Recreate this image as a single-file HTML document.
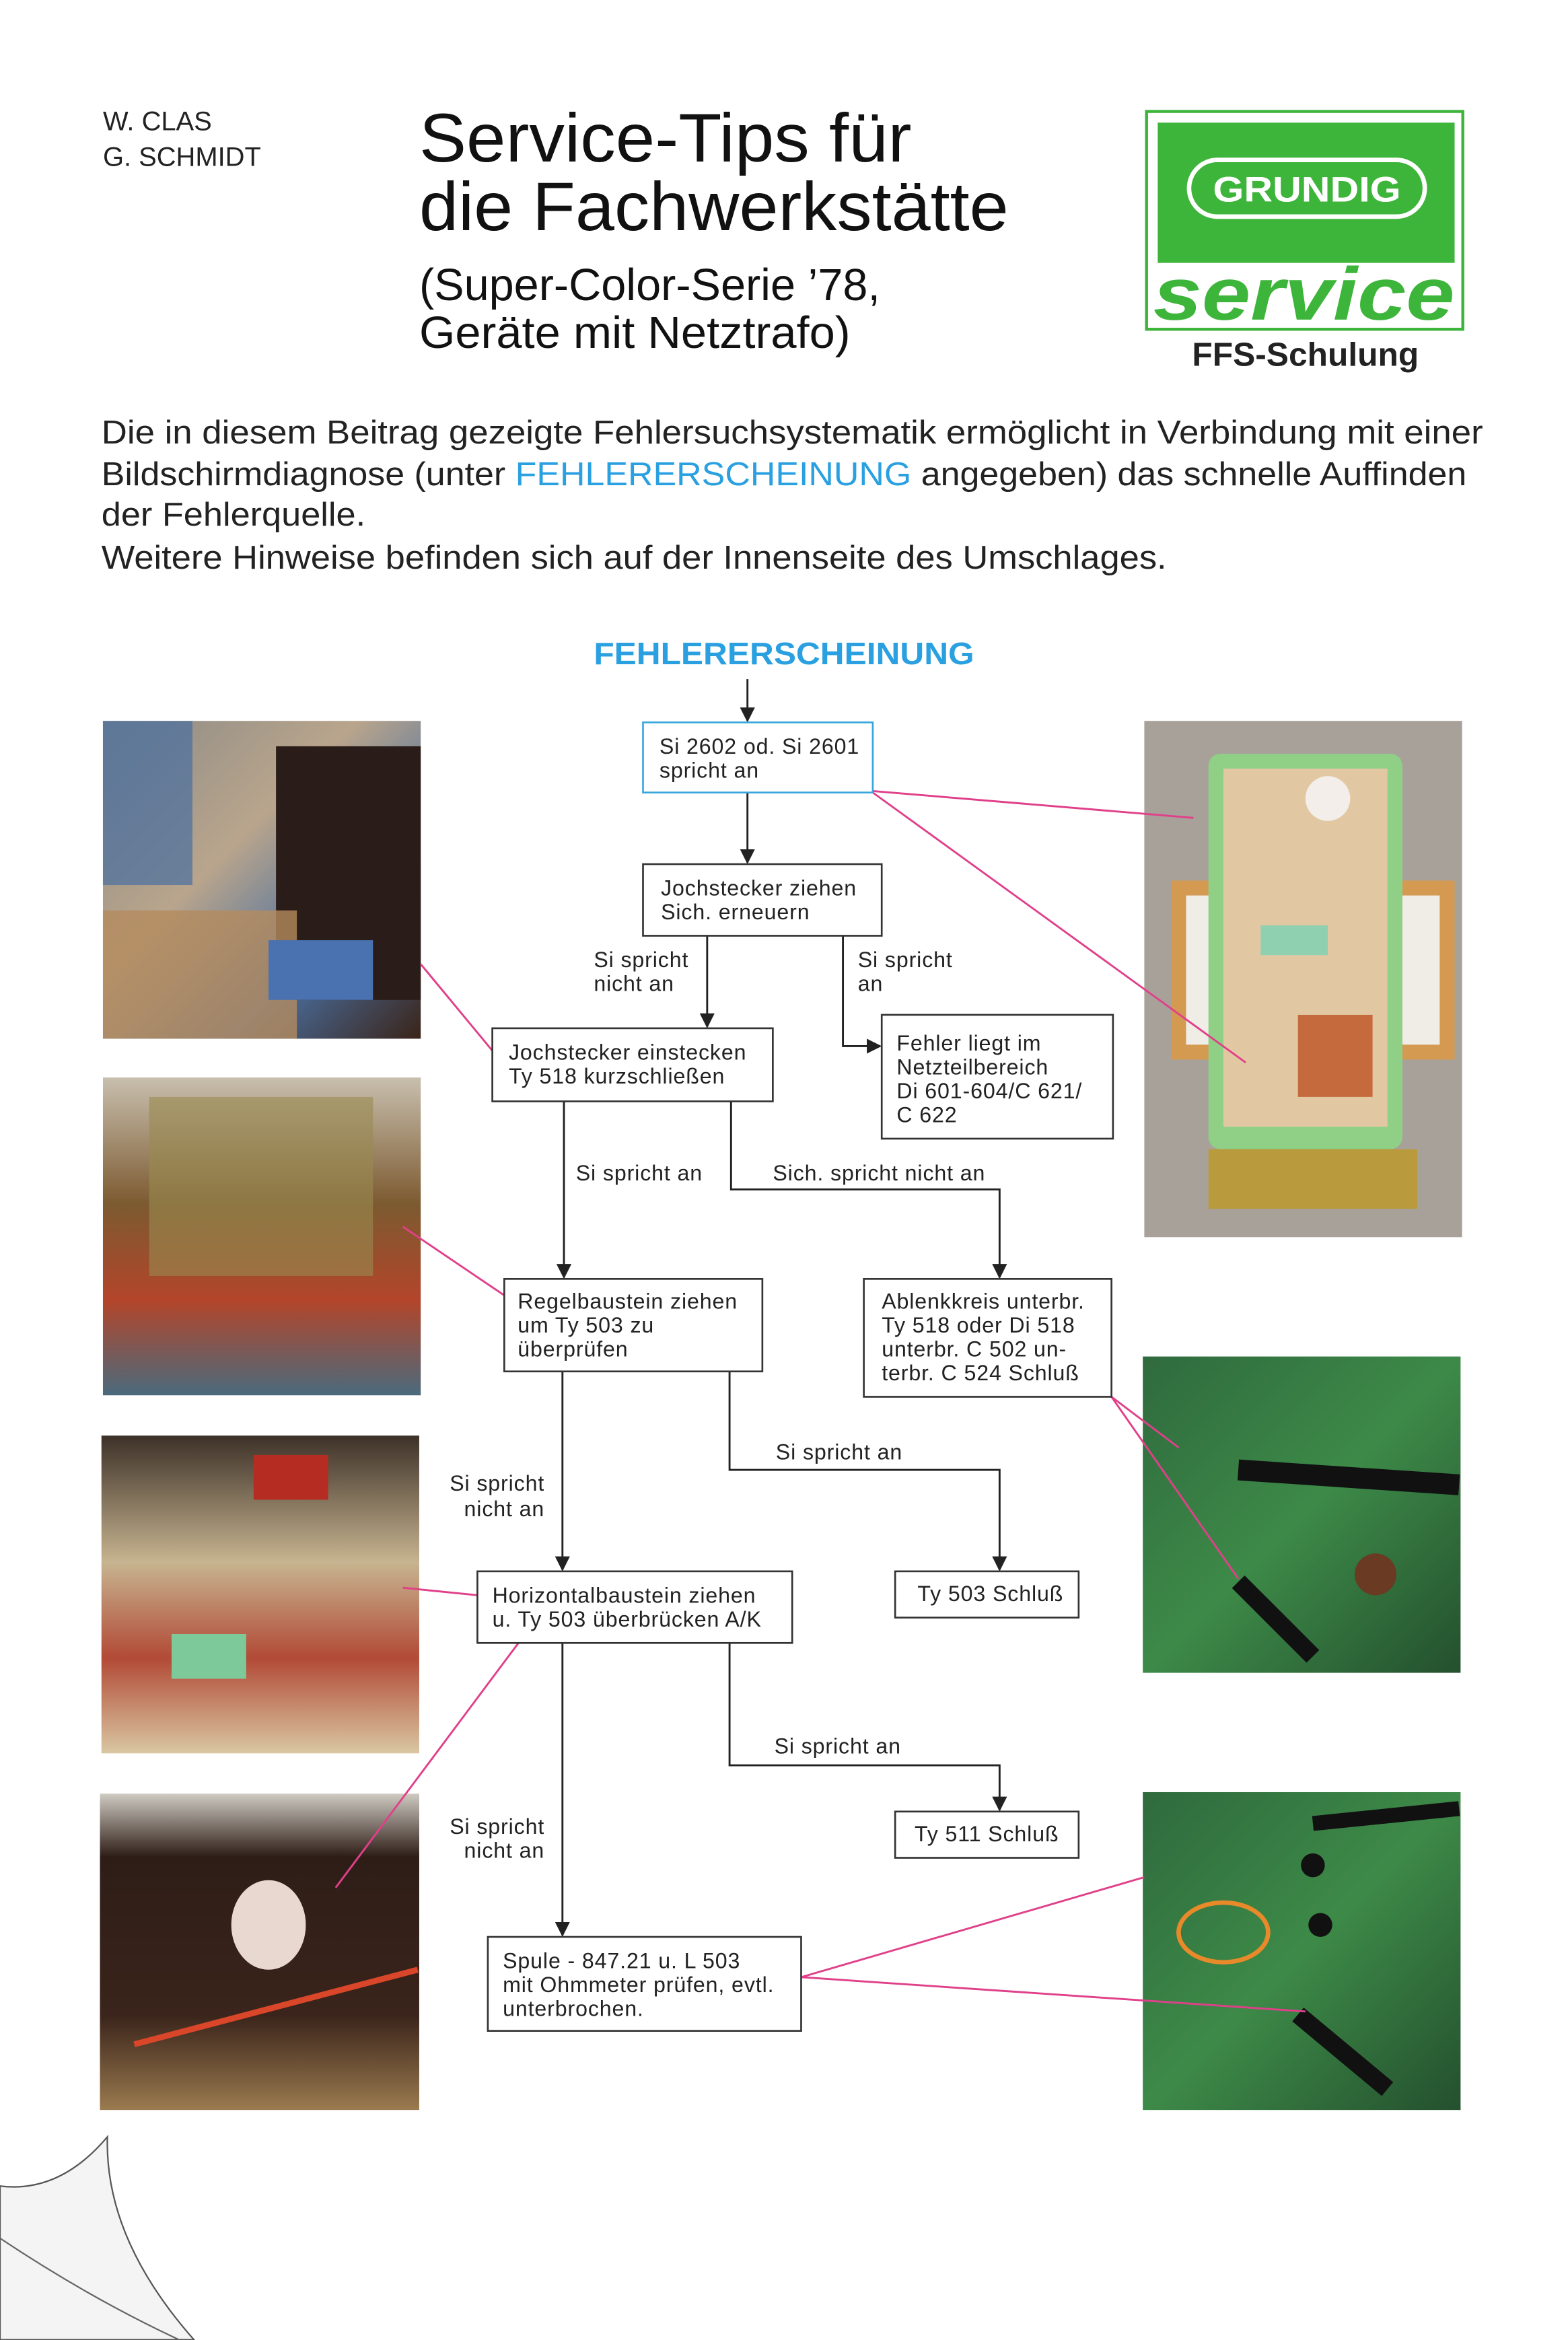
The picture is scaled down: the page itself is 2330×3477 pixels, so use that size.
<!DOCTYPE html>
<html><head><meta charset="utf-8"><style>
html,body{margin:0;padding:0;background:#fff}
svg{display:block}
text{font-family:"Liberation Sans",sans-serif}
</style></head><body>
<svg width="2330" height="3477" viewBox="0 0 1051 1568" xmlns="http://www.w3.org/2000/svg">
<defs>
<marker id="ar" markerWidth="10" markerHeight="10" refX="9" refY="5" orient="auto" markerUnits="userSpaceOnUse"><path d="M0,0 L10,5 L0,10 z" fill="#222"/></marker>
<linearGradient id="p1" x1="0" y1="0" x2="1" y2="1"><stop offset="0" stop-color="#8a8a86"/><stop offset=".4" stop-color="#b9a58c"/><stop offset=".7" stop-color="#4a6fa0"/><stop offset="1" stop-color="#3a2418"/></linearGradient>
<linearGradient id="p2" x1="0" y1="0" x2="0" y2="1"><stop offset="0" stop-color="#c8bfae"/><stop offset=".4" stop-color="#7c5a30"/><stop offset=".7" stop-color="#b3452a"/><stop offset="1" stop-color="#4a6a7c"/></linearGradient>
<linearGradient id="p3" x1="0" y1="0" x2="0" y2="1"><stop offset="0" stop-color="#3d3128"/><stop offset=".4" stop-color="#c7b490"/><stop offset=".7" stop-color="#b24a36"/><stop offset="1" stop-color="#d9c7a2"/></linearGradient>
<linearGradient id="p4" x1="0" y1="0" x2="0" y2="1"><stop offset="0" stop-color="#cfcbc2"/><stop offset=".2" stop-color="#2e1d17"/><stop offset=".7" stop-color="#3a241b"/><stop offset="1" stop-color="#9a7a4e"/></linearGradient>
<linearGradient id="g1" x1="0" y1="0" x2="1" y2="1"><stop offset="0" stop-color="#2f6a3e"/><stop offset=".5" stop-color="#3d8a48"/><stop offset="1" stop-color="#24502e"/></linearGradient>
</defs>

<!-- header -->
<text x="69" y="87" font-size="18" fill="#222">W. CLAS</text>
<text x="69" y="111" font-size="18" fill="#222">G. SCHMIDT</text>
<text x="281" y="108" font-size="46" fill="#111" textLength="330" lengthAdjust="spacingAndGlyphs">Service-Tips für</text>
<text x="281" y="154" font-size="46" fill="#111" textLength="395" lengthAdjust="spacingAndGlyphs">die Fachwerkstätte</text>
<text x="281" y="201" font-size="30" fill="#111" textLength="309" lengthAdjust="spacingAndGlyphs">(Super-Color-Serie ’78,</text>
<text x="281" y="233" font-size="30" fill="#111" textLength="289" lengthAdjust="spacingAndGlyphs">Geräte mit Netztrafo)</text>

<rect x="768.5" y="74.5" width="212" height="146" fill="#fff" stroke="#3db43a" stroke-width="2"/>
<rect x="776" y="82" width="199" height="94" fill="#3db43a"/>
<rect x="797" y="107" width="158" height="38" rx="19" fill="none" stroke="#fff" stroke-width="3"/>
<text x="876" y="135" font-size="24" font-weight="bold" fill="#fff" text-anchor="middle" textLength="126" lengthAdjust="spacingAndGlyphs">GRUNDIG</text>
<text x="773" y="214" font-size="50" font-weight="bold" font-style="italic" fill="#3db43a" textLength="202" lengthAdjust="spacingAndGlyphs">service</text>
<text x="799" y="245" font-size="22" font-weight="bold" fill="#222" textLength="152" lengthAdjust="spacingAndGlyphs">FFS-Schulung</text>

<text x="68" y="297" font-size="22" fill="#222" textLength="926" lengthAdjust="spacingAndGlyphs">Die in diesem Beitrag gezeigte Fehlersuchsystematik ermöglicht in Verbindung mit einer</text>
<text x="68" y="325" font-size="22" fill="#222" textLength="915" lengthAdjust="spacingAndGlyphs">Bildschirmdiagnose (unter <tspan fill="#2aa0e0">FEHLERERSCHEINUNG</tspan> angegeben) das schnelle Auffinden</text>
<text x="68" y="352" font-size="22" fill="#222" textLength="177" lengthAdjust="spacingAndGlyphs">der Fehlerquelle.</text>
<text x="68" y="381" font-size="22" fill="#222" textLength="714" lengthAdjust="spacingAndGlyphs">Weitere Hinweise befinden sich auf der Innenseite des Umschlages.</text>

<text x="398" y="445" font-size="21" font-weight="bold" fill="#2aa0e0" textLength="255" lengthAdjust="spacingAndGlyphs">FEHLERERSCHEINUNG</text>

<!-- photos left -->
<rect x="69" y="483" width="213" height="213" fill="url(#p1)"/>
<rect x="185" y="500" width="97" height="170" fill="#2a1c18"/>
<rect x="69" y="483" width="60" height="110" fill="#4a6fa0" opacity=".7"/>
<rect x="69" y="610" width="130" height="86" fill="#b48b5e" opacity=".8"/>
<rect x="180" y="630" width="70" height="40" fill="#4a72b0"/>
<rect x="69" y="722" width="213" height="213" fill="url(#p2)"/>
<rect x="100" y="735" width="150" height="120" fill="#9a8a50" opacity=".6"/>
<rect x="68" y="962" width="213" height="213" fill="url(#p3)"/>
<rect x="170" y="975" width="50" height="30" fill="#b52d22"/>
<rect x="115" y="1095" width="50" height="30" fill="#7ec99a"/>
<rect x="67" y="1202" width="214" height="212" fill="url(#p4)"/>
<ellipse cx="180" cy="1290" rx="25" ry="30" fill="#e8d8d0"/>
<path d="M90,1370 L280,1320" stroke="#d9462a" stroke-width="4"/>

<!-- photos right -->
<rect x="767" y="483" width="213" height="346" fill="#a8a19a"/>
<rect x="785" y="590" width="40" height="120" fill="#d49a52"/>
<rect x="935" y="590" width="40" height="120" fill="#d49a52"/>
<rect x="795" y="600" width="30" height="100" fill="#f0ece6"/>
<rect x="935" y="600" width="30" height="100" fill="#f0ece6"/>
<rect x="810" y="505" width="130" height="265" rx="8" fill="#8fcf86"/>
<rect x="820" y="515" width="110" height="240" fill="#e2c8a2"/>
<circle cx="890" cy="535" r="15" fill="#f3eeea"/>
<rect x="870" y="680" width="50" height="55" fill="#c46a3c"/>
<rect x="845" y="620" width="45" height="20" fill="#8fd0b0"/>
<rect x="810" y="770" width="140" height="40" fill="#b99a3c"/>
<rect x="766" y="909" width="213" height="212" fill="url(#g1)"/>
<path d="M830,985 L978,995" stroke="#111" stroke-width="14"/>
<path d="M830,1060 L880,1110" stroke="#111" stroke-width="12"/>
<circle cx="922" cy="1055" r="14" fill="#6a3a22"/>
<rect x="766" y="1201" width="213" height="213" fill="url(#g1)"/>
<path d="M880,1222 L978,1212" stroke="#111" stroke-width="10"/>
<path d="M870,1350 L930,1400" stroke="#111" stroke-width="12"/>
<ellipse cx="820" cy="1295" rx="30" ry="20" fill="none" stroke="#e88a2a" stroke-width="3"/>
<circle cx="880" cy="1250" r="8" fill="#111"/>
<circle cx="885" cy="1290" r="8" fill="#111"/>

<!-- magenta leader lines -->
<g stroke="#e0408a" stroke-width="1.3" fill="none">
<path d="M585,530 L800,548"/>
<path d="M585,531 L835,712"/>
<path d="M282,646 L330,704"/>
<path d="M270,822 L338,868"/>
<path d="M270,1064 L320,1069"/>
<path d="M352,1095 L225,1265"/>
<path d="M745,936 L830,1058"/>
<path d="M745,936 L790,970"/>
<path d="M537,1325 L767,1258"/>
<path d="M537,1325 L875,1348"/>
</g>

<!-- connectors -->
<g stroke="#222" stroke-width="1.3" fill="none">
<path d="M501,455 V483" marker-end="url(#ar)"/>
<path d="M501,531 V578" marker-end="url(#ar)"/>
<path d="M474,627 V688" marker-end="url(#ar)"/>
<path d="M565,627 V701 H590" marker-end="url(#ar)"/>
<path d="M378,738 V856" marker-end="url(#ar)"/>
<path d="M490,738 V797 H670 V856" marker-end="url(#ar)"/>
<path d="M377,919 V1052" marker-end="url(#ar)"/>
<path d="M489,919 V985 H670 V1052" marker-end="url(#ar)"/>
<path d="M377,1101 V1297" marker-end="url(#ar)"/>
<path d="M489,1101 V1183 H670 V1213" marker-end="url(#ar)"/>
</g>

<!-- boxes -->
<g fill="#fff" stroke="#333" stroke-width="1.2">
<rect x="431" y="484" width="154" height="47" stroke="#39a6dc"/>
<rect x="431" y="579" width="160" height="48"/>
<rect x="330" y="689" width="188" height="49"/>
<rect x="591" y="680" width="155" height="83"/>
<rect x="338" y="857" width="173" height="62"/>
<rect x="579" y="857" width="166" height="79"/>
<rect x="320" y="1053" width="211" height="48"/>
<rect x="600" y="1053" width="123" height="31"/>
<rect x="600" y="1214" width="123" height="31"/>
<rect x="327" y="1298" width="210" height="63"/>
</g>

<g font-size="14.5" fill="#222" letter-spacing=".4">
<text x="442" y="505">Si 2602 od. Si 2601</text><text x="442" y="521">spricht an</text>
<text x="443" y="600">Jochstecker ziehen</text><text x="443" y="616">Sich. erneuern</text>
<text x="341" y="710">Jochstecker einstecken</text><text x="341" y="726">Ty 518 kurzschließen</text>
<text x="601" y="704">Fehler liegt im</text><text x="601" y="720">Netzteilbereich</text><text x="601" y="736">Di 601-604/C 621/</text><text x="601" y="752">C 622</text>
<text x="347" y="877">Regelbaustein ziehen</text><text x="347" y="893">um Ty 503 zu</text><text x="347" y="909">überprüfen</text>
<text x="591" y="877">Ablenkkreis unterbr.</text><text x="591" y="893">Ty 518 oder Di 518</text><text x="591" y="909">unterbr. C 502 un-</text><text x="591" y="925">terbr. C 524 Schluß</text>
<text x="330" y="1074">Horizontalbaustein ziehen</text><text x="330" y="1090">u. Ty 503 überbrücken A/K</text>
<text x="615" y="1073">Ty 503 Schluß</text>
<text x="613" y="1234">Ty 511 Schluß</text>
<text x="337" y="1319">Spule - 847.21 u. L 503</text><text x="337" y="1335">mit Ohmmeter prüfen, evtl.</text><text x="337" y="1351">unterbrochen.</text>
<text x="398" y="648">Si spricht</text><text x="398" y="664">nicht an</text>
<text x="575" y="648">Si spricht</text><text x="575" y="664">an</text>
<text x="386" y="791">Si spricht an</text>
<text x="518" y="791">Sich. spricht nicht an</text>
<text x="365" y="999" text-anchor="end">Si spricht</text><text x="365" y="1016" text-anchor="end">nicht an</text>
<text x="520" y="978">Si spricht an</text>
<text x="365" y="1229" text-anchor="end">Si spricht</text><text x="365" y="1245" text-anchor="end">nicht an</text>
<text x="519" y="1175">Si spricht an</text>
</g>

<!-- page curl -->
<path d="M0,1465 Q40,1470 72,1432 Q70,1500 130,1568 L0,1568 z" fill="#f4f4f4" stroke="#555" stroke-width="1"/>
<path d="M0,1500 Q60,1540 120,1568" fill="none" stroke="#666" stroke-width="1"/>
</svg>
</body></html>
